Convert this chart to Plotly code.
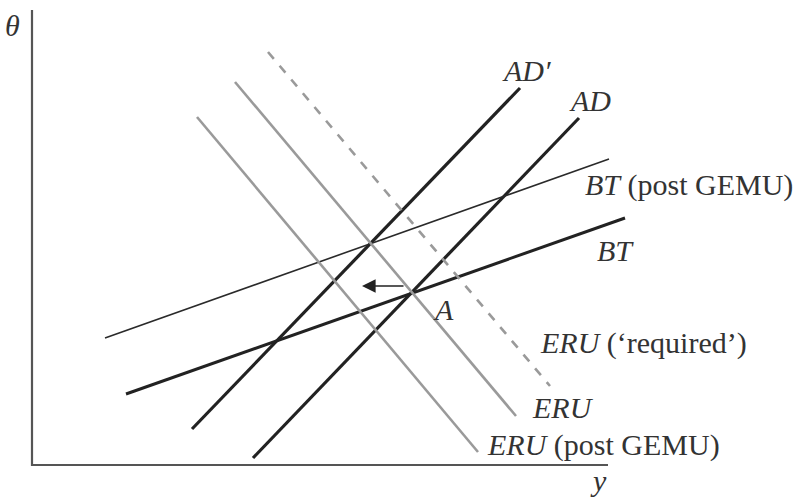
import plotly.graph_objects as go

# ---- data (diagram units: origin at axes corner) ----
line_names = ["AD′", "AD", "BT (post GEMU)", "BT", "ERU (‘required’)", "ERU", "ERU (post GEMU)"]
x_start = [16.0, 22.1, 7.3, 9.4, 23.6, 20.3, 16.5]
x_end   = [48.8, 54.7, 57.7, 59.3, 51.8, 48.4, 44.6]
y_start = [3.6, 0.7, 12.7, 7.1, 41.3, 38.3, 34.8]
y_end   = [37.7, 34.7, 30.6, 24.7, 7.9, 4.9, 1.3]

# axes extents
x_axis_end = 57.6
y_axis_end = 45.5

# arrow (shift of BT/AD intersection)
arrow_from = (37.3, 17.9)
arrow_to = (33.0, 17.9)

# ---- styles ----
styles = [
    dict(color="#222222", width=3.2, dash="solid"),
    dict(color="#222222", width=3.2, dash="solid"),
    dict(color="#2a2a2a", width=1.6, dash="solid"),
    dict(color="#222222", width=3.0, dash="solid"),
    dict(color="#9a9a9a", width=2.6, dash="dash"),
    dict(color="#9a9a9a", width=2.6, dash="solid"),
    dict(color="#9a9a9a", width=2.6, dash="solid"),
]

label_text = ["<i>AD′</i>", "<i>AD</i>", "<i>BT</i> (post GEMU)", "<i>BT</i>",
              "<i>ERU</i> (‘required’)", "<i>ERU</i>", "<i>ERU</i> (post GEMU)"]
label_pos = [(46.8, 39.5), (53.5, 36.5), (55.1, 28.0), (56.3, 21.5),
             (50.6, 12.2), (49.8, 5.8), (45.3, 2.0)]

fig = go.Figure()

# axes
fig.add_trace(go.Scatter(x=[0, 0, x_axis_end], y=[y_axis_end, 0, 0], mode="lines",
                         line=dict(color="#555555", width=2.2), hoverinfo="skip"))

for i in range(len(line_names)):
    fig.add_trace(go.Scatter(x=[x_start[i], x_end[i]], y=[y_start[i], y_end[i]],
                             mode="lines", line=styles[i], name=line_names[i]))

font = dict(family="Liberation Serif, DejaVu Serif, serif", size=30, color="#333333")

for t, (px, py) in zip(label_text, label_pos):
    fig.add_annotation(x=px, y=py, text=t, showarrow=False, xanchor="left",
                       yanchor="middle", font=font)

fig.add_annotation(x=-2.0, y=44.0, text="<i>θ</i>", showarrow=False, xanchor="center",
                   yanchor="middle", font=font)
fig.add_annotation(x=56.6, y=-1.5, text="<i>y</i>", showarrow=False, xanchor="center",
                   yanchor="middle", font=font)
fig.add_annotation(x=41.1, y=15.6, text="<i>A</i>", showarrow=False, xanchor="center",
                   yanchor="middle", font=font)

fig.add_annotation(x=arrow_to[0], y=arrow_to[1], ax=arrow_from[0], ay=arrow_from[1],
                   xref="x", yref="y", axref="x", ayref="y", text="", showarrow=True,
                   arrowhead=2, arrowsize=1.7, arrowwidth=1.6, arrowcolor="#222222")

fig.update_layout(
    width=801, height=497, showlegend=False,
    margin=dict(l=0, r=0, t=0, b=0),
    plot_bgcolor="white", paper_bgcolor="white",
    xaxis=dict(range=[-3.2, 76.9], visible=False, fixedrange=True),
    yaxis=dict(range=[-3.2, 46.5], visible=False, fixedrange=True),
)

fig.write_html("out.html", config={"displayModeBar": False},
               post_script="document.body.style.margin='0';document.body.style.overflow='hidden';")
